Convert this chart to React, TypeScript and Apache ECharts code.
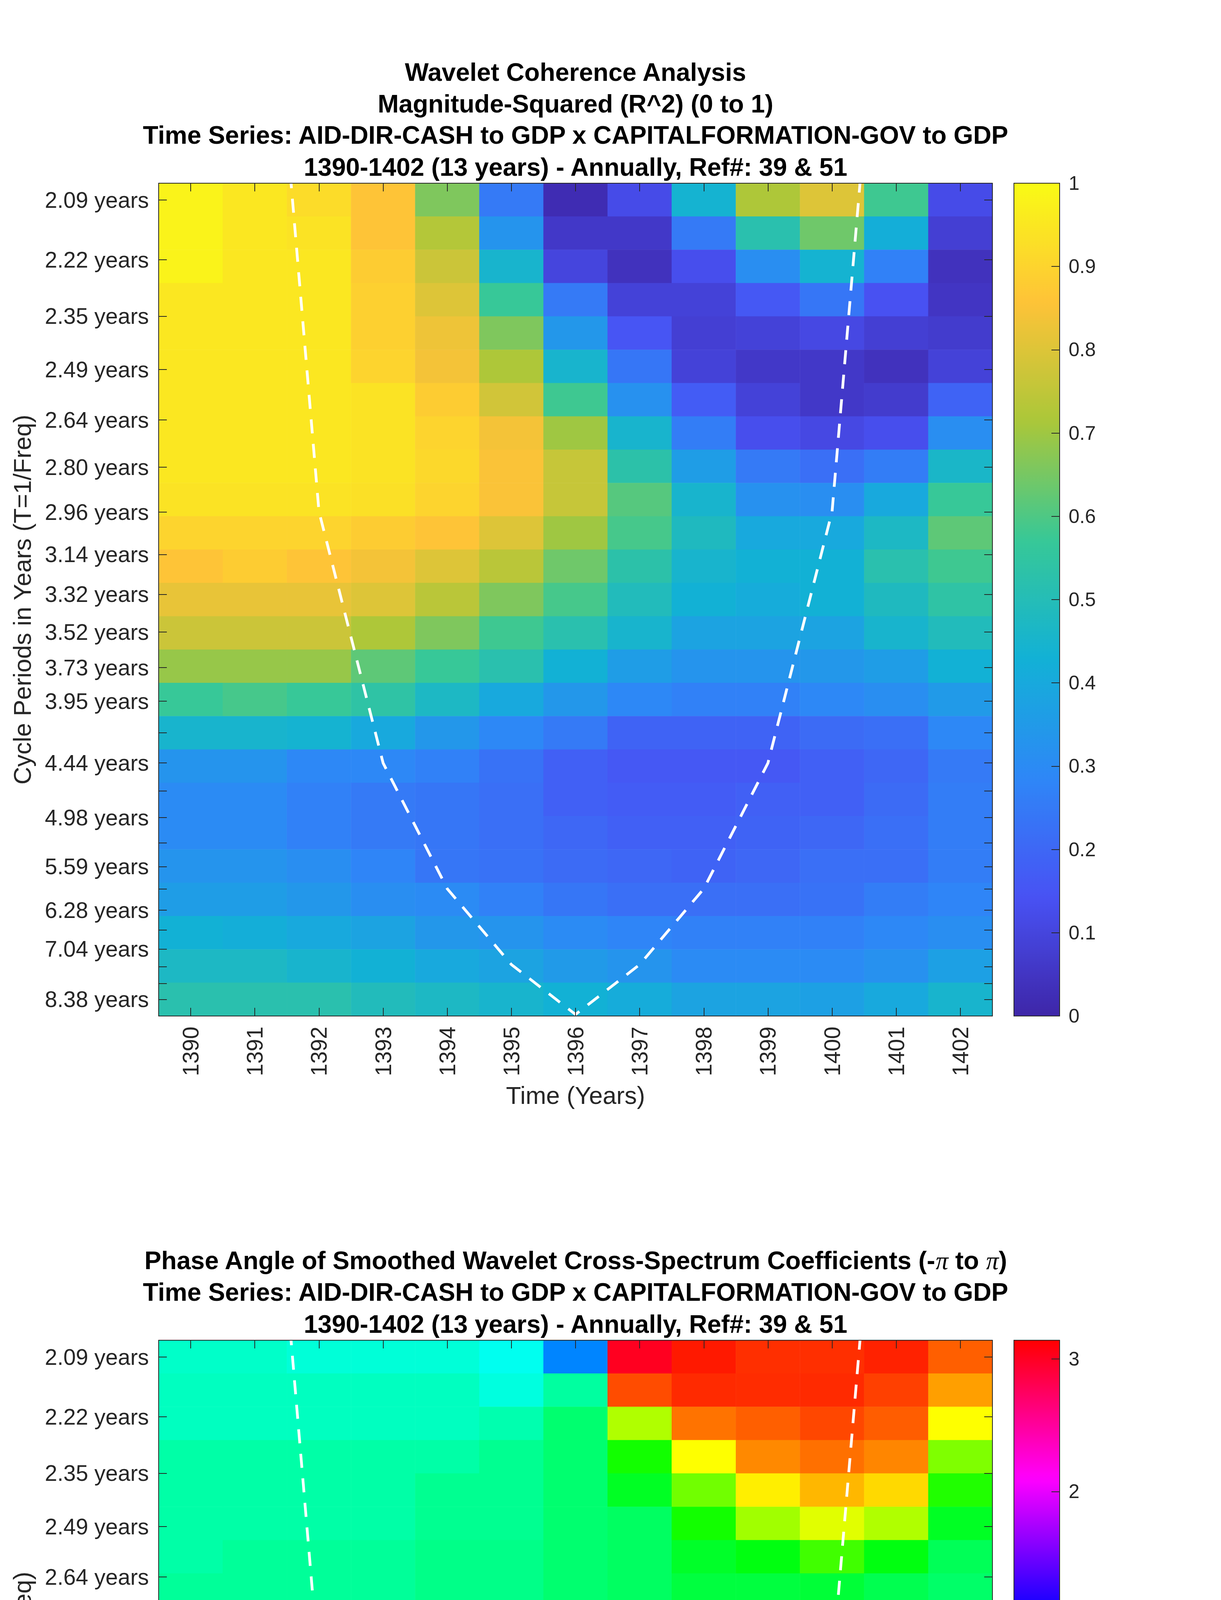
import React, { useEffect, useRef } from "react";
import * as echarts from "echarts";

// ---------------- data ----------------
const years = ["1390", "1391", "1392", "1393", "1394", "1395", "1396", "1397", "1398", "1399", "1400", "1401", "1402"];

// wavelet periods (years), top row first
const periods = [
  2.0944, 2.2189, 2.3509, 2.4907, 2.6388, 2.7957, 2.9619, 3.1381, 3.3247, 3.5224, 3.7318, 3.9537,
  4.1888, 4.4379, 4.7018, 4.9814, 5.2776, 5.5914, 5.9238, 6.2761, 6.6493, 7.0447, 7.4636, 7.9074, 8.3776,
];

const periodTickLabels = [
  "2.09 years", "2.22 years", "2.35 years", "2.49 years", "2.64 years", "2.80 years", "2.96 years",
  "3.14 years", "3.32 years", "3.52 years", "3.73 years", "3.95 years", "", "4.44 years", "",
  "4.98 years", "", "5.59 years", "", "6.28 years", "", "7.04 years", "", "", "8.38 years",
];

// magnitude-squared coherence, rows = periods (top first), columns = years
const coherence = [
  [0.98, 0.95, 0.92, 0.86, 0.66, 0.25, 0.02, 0.12, 0.44, 0.72, 0.80, 0.58, 0.12],
  [0.98, 0.95, 0.94, 0.86, 0.73, 0.33, 0.06, 0.06, 0.25, 0.52, 0.64, 0.42, 0.08],
  [0.98, 0.95, 0.95, 0.88, 0.77, 0.45, 0.10, 0.04, 0.13, 0.31, 0.44, 0.27, 0.04],
  [0.95, 0.95, 0.95, 0.89, 0.80, 0.57, 0.25, 0.09, 0.09, 0.16, 0.24, 0.14, 0.05],
  [0.95, 0.95, 0.95, 0.89, 0.83, 0.66, 0.34, 0.15, 0.08, 0.09, 0.11, 0.08, 0.07],
  [0.95, 0.95, 0.95, 0.90, 0.84, 0.72, 0.45, 0.24, 0.09, 0.06, 0.06, 0.04, 0.09],
  [0.95, 0.95, 0.95, 0.94, 0.88, 0.78, 0.58, 0.32, 0.17, 0.09, 0.06, 0.07, 0.19],
  [0.95, 0.95, 0.95, 0.94, 0.90, 0.84, 0.70, 0.45, 0.26, 0.13, 0.11, 0.13, 0.31],
  [0.95, 0.95, 0.95, 0.94, 0.91, 0.85, 0.76, 0.53, 0.36, 0.25, 0.22, 0.26, 0.46],
  [0.94, 0.94, 0.94, 0.93, 0.90, 0.85, 0.76, 0.61, 0.45, 0.32, 0.31, 0.40, 0.57],
  [0.90, 0.90, 0.90, 0.88, 0.86, 0.80, 0.70, 0.59, 0.48, 0.40, 0.40, 0.47, 0.62],
  [0.86, 0.88, 0.86, 0.84, 0.80, 0.74, 0.64, 0.53, 0.45, 0.43, 0.43, 0.52, 0.58],
  [0.82, 0.82, 0.82, 0.80, 0.74, 0.66, 0.59, 0.49, 0.43, 0.41, 0.43, 0.48, 0.54],
  [0.77, 0.77, 0.77, 0.72, 0.66, 0.58, 0.52, 0.45, 0.38, 0.38, 0.38, 0.45, 0.49],
  [0.69, 0.69, 0.69, 0.62, 0.57, 0.52, 0.43, 0.36, 0.33, 0.33, 0.34, 0.36, 0.43],
  [0.57, 0.59, 0.57, 0.54, 0.47, 0.40, 0.34, 0.29, 0.27, 0.27, 0.29, 0.31, 0.35],
  [0.45, 0.45, 0.44, 0.40, 0.34, 0.29, 0.25, 0.19, 0.19, 0.19, 0.21, 0.22, 0.29],
  [0.33, 0.33, 0.29, 0.29, 0.27, 0.23, 0.18, 0.16, 0.16, 0.16, 0.18, 0.20, 0.25],
  [0.30, 0.30, 0.27, 0.25, 0.24, 0.22, 0.18, 0.17, 0.17, 0.18, 0.18, 0.21, 0.26],
  [0.30, 0.30, 0.27, 0.25, 0.24, 0.22, 0.20, 0.18, 0.18, 0.19, 0.20, 0.22, 0.26],
  [0.33, 0.33, 0.31, 0.28, 0.24, 0.23, 0.21, 0.20, 0.19, 0.20, 0.22, 0.22, 0.26],
  [0.36, 0.36, 0.34, 0.31, 0.30, 0.27, 0.24, 0.22, 0.22, 0.22, 0.23, 0.26, 0.28],
  [0.43, 0.42, 0.40, 0.38, 0.34, 0.33, 0.30, 0.28, 0.27, 0.27, 0.27, 0.29, 0.31],
  [0.47, 0.47, 0.45, 0.43, 0.40, 0.38, 0.35, 0.33, 0.30, 0.30, 0.30, 0.32, 0.37],
  [0.52, 0.52, 0.52, 0.49, 0.47, 0.45, 0.43, 0.41, 0.38, 0.38, 0.37, 0.40, 0.45],
];

// phase angle (radians), rows = periods (top first), columns = years
const phase = [
  [-0.22, -0.22, -0.16, -0.16, -0.16, -0.06, 0.50, 3.01, -3.04, -2.95, -2.95, -3.00, -2.75],
  [-0.26, -0.26, -0.26, -0.26, -0.26, -0.13, -0.39, -2.83, -2.97, -2.96, -2.97, -2.88, -2.49],
  [-0.26, -0.26, -0.26, -0.26, -0.26, -0.33, -0.59, -1.77, -2.67, -2.75, -2.85, -2.76, -2.09],
  [-0.36, -0.36, -0.36, -0.36, -0.36, -0.45, -0.59, -1.12, -2.09, -2.58, -2.68, -2.59, -1.57],
  [-0.36, -0.36, -0.36, -0.36, -0.45, -0.45, -0.59, -0.90, -1.51, -2.16, -2.39, -2.25, -1.18],
  [-0.36, -0.36, -0.36, -0.36, -0.45, -0.45, -0.59, -0.65, -1.12, -1.71, -1.97, -1.77, -0.90],
  [-0.36, -0.42, -0.42, -0.42, -0.49, -0.49, -0.59, -0.65, -0.88, -0.98, -1.31, -0.98, -0.69],
  [-0.42, -0.42, -0.42, -0.42, -0.49, -0.49, -0.59, -0.65, -0.79, -0.79, -0.82, -0.72, -0.62],
  [-0.45, -0.45, -0.45, -0.56, -0.56, -0.56, -0.62, -0.65, -0.69, -0.65, -0.59, -0.56, -0.56],
  [-0.49, -0.56, -0.59, -0.59, -0.59, -0.59, -0.69, -0.69, -0.59, -0.59, -0.52, -0.52, -0.52],
  [-0.52, -0.65, -0.62, -0.62, -0.62, -0.62, -0.65, -0.65, -0.62, -0.49, -0.45, -0.45, -0.45],
  [-0.52, -0.52, -0.62, -0.62, -0.62, -0.62, -0.62, -0.62, -0.52, -0.42, -0.42, -0.42, -0.42],
  [-0.52, -0.52, -0.62, -0.62, -0.62, -0.62, -0.62, -0.62, -0.45, -0.39, -0.42, -0.36, -0.42],
  [-0.52, -0.52, -0.52, -0.52, -0.62, -0.62, -0.62, -0.52, -0.45, -0.33, -0.33, -0.30, -0.33],
  [-0.56, -0.56, -0.56, -0.56, -0.56, -0.56, -0.56, -0.56, -0.36, -0.30, -0.33, -0.22, -0.26],
  [-0.39, -0.39, -0.52, -0.52, -0.52, -0.52, -0.52, -0.33, -0.26, -0.19, -0.19, -0.19, -0.19],
  [-0.33, -0.33, -0.33, -0.33, -0.33, -0.33, -0.22, -0.26, -0.15, -0.08, 0.00, 0.00, -0.05],
  [-0.12, -0.12, -0.16, -0.16, -0.16, -0.09, -0.09, 0.00, 0.09, 0.09, 0.19, 0.19, 0.09],
  [0.22, 0.09, 0.09, 0.09, 0.09, 0.19, 0.19, 0.31, 0.31, 0.31, 0.41, 0.41, 0.31],
  [0.49, 0.30, 0.30, 0.30, 0.30, 0.30, 0.30, 0.39, 0.36, 0.36, 0.41, 0.41, 0.39],
  [0.52, 0.52, 0.52, 0.52, 0.52, 0.52, 0.52, 0.42, 0.42, 0.42, 0.42, 0.52, 0.49],
  [0.72, 0.72, 0.72, 0.72, 0.72, 0.59, 0.59, 0.49, 0.56, 0.56, 0.56, 0.56, 0.65],
  [0.82, 0.82, 0.82, 0.82, 0.82, 0.82, 0.72, 0.72, 0.65, 0.65, 0.65, 0.65, 0.72],
  [0.88, 1.01, 1.01, 1.01, 0.88, 0.88, 0.79, 0.79, 0.72, 0.72, 0.72, 0.72, 0.72],
  [0.98, 0.98, 0.98, 0.98, 0.98, 0.98, 0.82, 0.79, 0.79, 0.79, 0.68, 0.75, 0.75],
];

// cone of influence (period in years at each year)
const coiYears = ["1391", "1392", "1393", "1394", "1395", "1396", "1397", "1398", "1399", "1400", "1401"];
const coiPeriods = [1.48, 2.96, 4.44, 5.92, 7.41, 8.88, 7.41, 5.92, 4.44, 2.96, 1.48];

const coherenceTicks = [0, 0.1, 0.2, 0.3, 0.4, 0.5, 0.6, 0.7, 0.8, 0.9, 1];
const phaseTicks = [-3, -2, -1, 0, 1, 2, 3];

const titleTop = [
  "Wavelet Coherence Analysis",
  "Magnitude-Squared (R^2) (0 to 1)",
  "Time Series: AID-DIR-CASH to GDP x CAPITALFORMATION-GOV to GDP",
  "1390-1402 (13 years) - Annually, Ref#: 39 & 51",
];
const titleBottom = [
  "{b|Phase Angle of Smoothed Wavelet Cross-Spectrum Coefficients (-}{p|π}{b| to }{p|π}{b|)}",
  "Time Series: AID-DIR-CASH to GDP x CAPITALFORMATION-GOV to GDP",
  "1390-1402 (13 years) - Annually, Ref#: 39 & 51",
];
const xName = "Time (Years)";
const yName = "Cycle Periods in Years (T=1/Freq)";

const parula = ["#3E26A8", "#4852F4", "#2E87F7", "#12B1D6", "#37C897", "#ABC739", "#FEC338", "#F9FB15"];
const hsv = ["#FF0000", "#FFFF00", "#00FF00", "#00FFFF", "#0000FF", "#FF00FF", "#FF0000"];

// ---------------- layout ----------------
const FONT = '"Liberation Sans", Arial, Helvetica, sans-serif';
const AX = "#262626";
const PLOT_LEFT = 406;
const PLOT_W = 2134;
const PLOT_H = 2132;
const PANEL_TOPS = [469, 3431];
const CB_LEFT = 2595;
const CB_W = 117;
const CX = PLOT_LEFT + PLOT_W / 2;
const TITLE_SIZE = 64.5;
const TICK_SIZE = 57;
const NAME_SIZE = 63;

function buildOption() {
  const freqs = periods.map((p) => 1 / p);
  const f0 = freqs[0];
  const fN = freqs[freqs.length - 1];
  const half = (f0 - fN) / (freqs.length - 1) / 2;
  const fTop = f0 + half;
  const fBot = fN - half;
  const labeledFreqs = freqs.filter((_, i) => periodTickLabels[i] !== "");
  const periodFormatter = (v: number) => {
    let best = 0;
    freqs.forEach((f, i) => {
      if (Math.abs(f - v) < Math.abs(freqs[best] - v)) best = i;
    });
    return periodTickLabels[best];
  };
  const rowNames = periods.map((p) => p.toFixed(2));
  const coiData = coiYears.map((y, i) => [y, 1 / coiPeriods[i]]);
  const lineStyle = { color: AX, width: 2 };

  const grid: any[] = [];
  const xAxis: any[] = [];
  const yAxis: any[] = [];
  const series: any[] = [];
  const visualMap: any[] = [];

  const panels = [
    { values: coherence, min: 0, max: 1, colors: parula, ticks: coherenceTicks, fmt: (v: number) => String(v) },
    {
      values: phase,
      min: -Math.PI,
      max: Math.PI,
      colors: hsv,
      ticks: phaseTicks,
      fmt: (v: number) => (v < 0 ? "\u2212" + Math.abs(v) : String(v)),
    },
  ];

  panels.forEach((pn, p) => {
    const top = PANEL_TOPS[p];
    const g = grid.length;
    grid.push({ left: PLOT_LEFT, top, width: PLOT_W, height: PLOT_H, containLabel: false });
    grid.push({ left: CB_LEFT, top, width: CB_W, height: PLOT_H, containLabel: false });
    const gc = g + 1;
    const xi = xAxis.length;
    const yi = yAxis.length;

    xAxis.push({
      type: "category", gridIndex: g, position: "bottom", data: years, z: 10,
      axisLine: { show: true, onZero: false, lineStyle },
      axisTick: { show: true, inside: true, length: 21, alignWithLabel: true, lineStyle },
      axisLabel: { show: true, rotate: 90, margin: 27, fontSize: TICK_SIZE, fontFamily: FONT, color: AX, interval: 0 },
      splitLine: { show: false },
    });
    xAxis.push({
      type: "category", gridIndex: g, position: "top", data: years, z: 10,
      axisLine: { show: true, onZero: false, lineStyle },
      axisTick: { show: true, inside: true, length: 21, alignWithLabel: true, interval: 0, lineStyle },
      axisLabel: { show: false },
      splitLine: { show: false },
    });
    xAxis.push({
      type: "category", gridIndex: gc, position: "bottom", data: [""], z: 10,
      axisLine: { show: true, onZero: false, lineStyle },
      axisTick: { show: false }, axisLabel: { show: false }, splitLine: { show: false },
    });
    xAxis.push({
      type: "category", gridIndex: gc, position: "top", data: [""], z: 10,
      axisLine: { show: true, onZero: false, lineStyle },
      axisTick: { show: false }, axisLabel: { show: false }, splitLine: { show: false },
    });

    yAxis.push({ type: "category", gridIndex: g, data: rowNames, inverse: true, show: false });
    yAxis.push({
      type: "value", gridIndex: g, position: "left", min: fBot, max: fTop, z: 10,
      axisLine: { show: true, onZero: false, lineStyle },
      axisTick: { show: true, inside: true, length: 21, lineStyle, customValues: freqs },
      axisLabel: {
        show: true, customValues: labeledFreqs, formatter: periodFormatter, margin: 25,
        fontSize: TICK_SIZE, fontFamily: FONT, color: AX,
      },
      splitLine: { show: false },
    });
    yAxis.push({
      type: "value", gridIndex: g, position: "right", min: fBot, max: fTop, z: 10,
      axisLine: { show: true, onZero: false, lineStyle },
      axisTick: { show: true, inside: true, length: 21, lineStyle, customValues: freqs },
      axisLabel: { show: false },
      splitLine: { show: false },
    });
    yAxis.push({
      type: "value", gridIndex: gc, position: "right", min: pn.min, max: pn.max, z: 10,
      axisLine: { show: true, onZero: false, lineStyle },
      axisTick: { show: true, inside: true, length: 21, lineStyle, customValues: pn.ticks },
      axisLabel: {
        show: true, customValues: pn.ticks, formatter: pn.fmt, margin: 23,
        fontSize: 50, fontFamily: FONT, color: AX,
      },
      splitLine: { show: false },
    });
    yAxis.push({
      type: "value", gridIndex: gc, position: "left", min: pn.min, max: pn.max, z: 10,
      axisLine: { show: true, onZero: false, lineStyle },
      axisTick: { show: false }, axisLabel: { show: false }, splitLine: { show: false },
    });

    const cells: number[][] = [];
    pn.values.forEach((row, r) => row.forEach((v, c) => cells.push([c, r, v])));
    const si = series.length;
    series.push({
      type: "heatmap", xAxisIndex: xi, yAxisIndex: yi, data: cells,
      itemStyle: { borderWidth: 0 }, emphasis: { disabled: true }, silent: true, z: 2,
    });
    series.push({
      type: "line", xAxisIndex: xi, yAxisIndex: yi + 1, data: coiData,
      symbol: "none", showSymbol: false, clip: true, silent: true, z: 5,
      lineStyle: { color: "#FFFFFF", width: 7, type: [36, 27], cap: "butt" },
    });
    visualMap.push({
      type: "continuous", seriesIndex: si, min: pn.min, max: pn.max,
      inRange: { color: pn.colors }, calculable: false, show: true, hoverLink: false,
      orient: "vertical", left: CB_LEFT, top, itemWidth: CB_W, itemHeight: PLOT_H, padding: 0,
    });
  });

  const graphic: any[] = [];
  const titleStyle = { fill: "#000", fontSize: TITLE_SIZE, fontWeight: "bold", fontFamily: FONT };
  const richTitle = {
    b: { fill: "#000", fontSize: TITLE_SIZE, fontWeight: "bold", fontFamily: FONT },
    p: { fill: "#000", fontSize: TITLE_SIZE, fontStyle: "italic", fontFamily: '"Liberation Serif", "DejaVu Serif", serif' },
  };
  const topBaselines = [207, 288, 368, 450];
  titleTop.forEach((t, i) => {
    graphic.push({
      type: "text", x: CX, y: topBaselines[i] - 22, silent: true,
      style: { ...titleStyle, text: t, align: "center", verticalAlign: "middle", textAlign: "center", textVerticalAlign: "middle" },
    });
  });
  const botBaselines = [3249, 3330, 3412];
  titleBottom.forEach((t, i) => {
    graphic.push({
      type: "text", x: CX, y: botBaselines[i] - 22, silent: true,
      style: {
        ...titleStyle, text: t, rich: i === 0 ? richTitle : undefined,
        align: "center", verticalAlign: "middle", textAlign: "center", textVerticalAlign: "middle",
      },
    });
  });
  PANEL_TOPS.forEach((top) => {
    graphic.push({
      type: "text", x: CX, y: top + PLOT_H + 203, silent: true,
      style: {
        text: xName, fill: AX, fontSize: NAME_SIZE, fontFamily: FONT,
        align: "center", verticalAlign: "middle", textAlign: "center", textVerticalAlign: "middle",
      },
    });
    graphic.push({
      type: "text", x: 57, y: top + PLOT_H / 2, rotation: Math.PI / 2, silent: true,
      style: {
        text: yName, fill: AX, fontSize: NAME_SIZE, fontFamily: FONT,
        align: "center", verticalAlign: "middle", textAlign: "center", textVerticalAlign: "middle",
      },
    });
  });

  return {
    animation: false,
    backgroundColor: "#FFFFFF",
    textStyle: { fontFamily: FONT },
    grid,
    xAxis,
    yAxis,
    visualMap,
    series,
    graphic,
  };
}

export default function App() {
  const ref = useRef<HTMLDivElement>(null);
  useEffect(() => {
    document.body.style.margin = "0";
    if (!ref.current) return;
    const chart = echarts.init(ref.current, undefined, { renderer: "svg" });
    chart.setOption(buildOption() as any);
    return () => chart.dispose();
  }, []);
  return <div ref={ref} style={{ width: "3125px", height: "6252px" }} />;
}
